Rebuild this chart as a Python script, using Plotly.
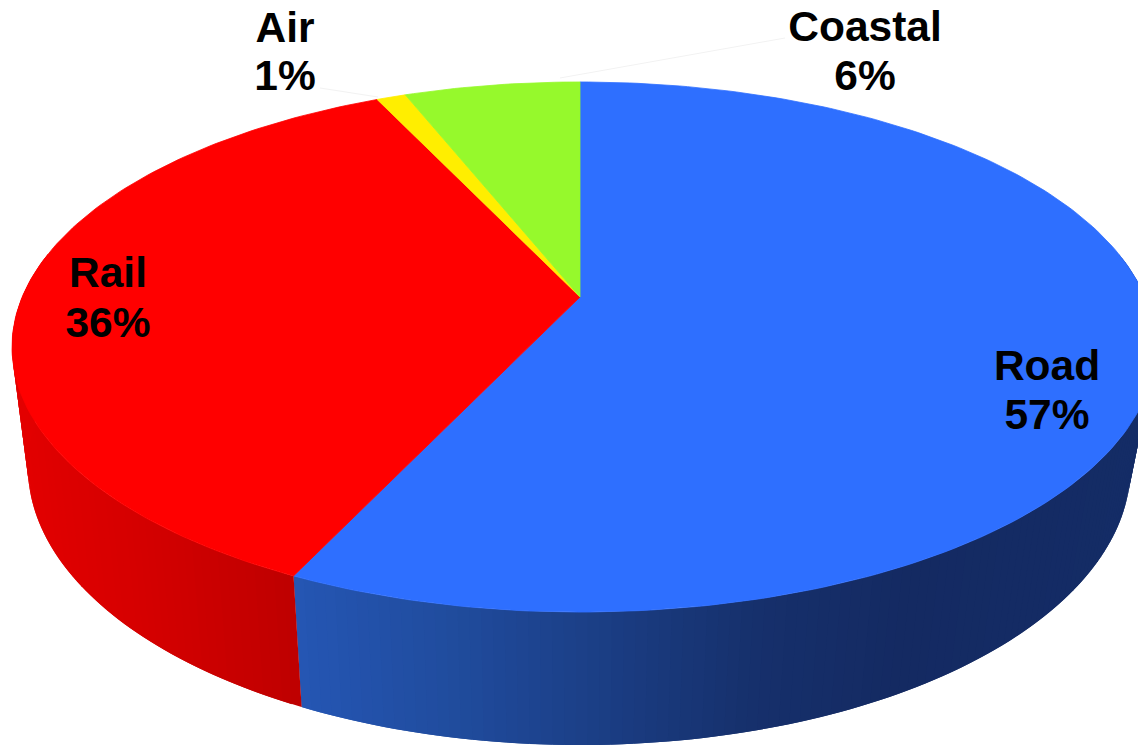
import math
import plotly.graph_objects as go

# Data, clockwise from 12 o'clock
categories = ["Road", "Rail", "Air", "Coastal"]
shares = [57, 36, 1, 6]
top_colors = ["#2E6FFF", "#FF0000", "#FFEE00", "#96F92C"]

# Label placement (pixel space of the hidden axes)
name_x = [1047, 108, 285, 865]
name_y = [369, 276, 31, 30]
pct_y = [418, 326, 79, 79]

# Side-wall shading stops: screen x -> colour
side_stops = {
    "Road": [(295, (37, 86, 180)), (450, (32, 76, 158)), (600, (27, 62, 133)),
             (750, (22, 48, 108)), (900, (20, 42, 98)), (1140, (20, 44, 102))],
    "Rail": [(10, (228, 0, 0)), (150, (212, 0, 0)), (230, (200, 0, 0)), (300, (190, 0, 0))],
}
leaders = [([320, 378], [88, 97]), ([785, 560], [38, 78])]

# Projection of the disc: perspective tilt
CX, CY = 580, 297
A_LEFT, A_RIGHT, B, K = 557.8, 565.0, 255.6, 0.1887
SX_LEFT, SX_RIGHT, SY, DY = 0.972, 0.957, 1.05, 102.4
W, H = 1138, 746


def rim(theta):
    t = math.radians(theta)
    u, v = math.sin(t), math.cos(t)
    w = 1 + K * v
    a = A_RIGHT if u > 0 else A_LEFT
    return CX + a * u / w, CY - B * v / w


def low(theta):
    x, y = rim(theta)
    sx = SX_RIGHT if x > CX else SX_LEFT
    return CX + sx * (x - CX), SY * y + DY


def shade(stops, x):
    if x <= stops[0][0]:
        return stops[0][1]
    for (x0, c0), (x1, c1) in zip(stops, stops[1:]):
        if x <= x1:
            f = (x - x0) / (x1 - x0)
            return tuple(a + f * (b - a) for a, b in zip(c0, c1))
    return stops[-1][1]


total = sum(shares)
edges = [0]
for s in shares:
    edges.append(edges[-1] + 360 * s / total)

fig = go.Figure()

# Side wall: overlapping bands so no seams show
for name, share, a0, a1 in zip(categories, shares, edges, edges[1:]):
    if name not in side_stops:
        continue
    lo, hi = max(a0, 80), min(a1, 280)
    n = int((hi - lo) / 1.0) + 1
    for i in range(n):
        t0 = lo + (hi - lo) * i / n
        t1 = lo + (hi - lo) * (i + 1) / n
        t2 = min(t1 + (hi - lo) / n, hi)   # overlap into the next band
        p = [rim(t0), rim(t2), low(t2), low(t0), rim(t0)]
        mx = (rim(t0)[0] + rim(t1)[0] + low(t0)[0] + low(t1)[0]) / 4
        c = shade(side_stops[name], mx)
        col = "rgb(%d,%d,%d)" % tuple(round(v) for v in c)
        fig.add_trace(go.Scatter(x=[q[0] for q in p], y=[q[1] for q in p], mode="lines",
                                 fill="toself", fillcolor=col, line=dict(color=col, width=0),
                                 hoverinfo="skip", showlegend=False))

# Top face
for name, col, a0, a1 in zip(categories, top_colors, edges, edges[1:]):
    n = max(int(a1 - a0), 4)
    pts = [rim(a0 + (a1 - a0) * i / n) for i in range(n + 1)]
    xs = [CX] + [q[0] for q in pts] + [CX]
    ys = [CY] + [q[1] for q in pts] + [CY]
    fig.add_trace(go.Scatter(x=xs, y=ys, mode="lines", fill="toself", fillcolor=col,
                             line=dict(color=col, width=0.8), name=name,
                             hoverinfo="name", showlegend=False))

# Faint leader lines
for lx, ly in leaders:
    fig.add_trace(go.Scatter(x=lx, y=ly, mode="lines", line=dict(color="#F2F2F2", width=1),
                             hoverinfo="skip", showlegend=False))

# Labels
font = dict(family="Liberation Sans", size=42.5, color="#000000", weight="bold")
fig.add_trace(go.Scatter(x=name_x, y=name_y, mode="text", text=categories,
                         textposition="middle center", textfont=font,
                         hoverinfo="skip", showlegend=False))
fig.add_trace(go.Scatter(x=name_x, y=pct_y, mode="text", text=["%d%%" % s for s in shares],
                         textposition="middle center", textfont=font,
                         hoverinfo="skip", showlegend=False))

fig.update_layout(width=W, height=H, margin=dict(l=0, r=0, t=0, b=0),
                  paper_bgcolor="white", plot_bgcolor="white",
                  xaxis=dict(range=[0, W], visible=False, fixedrange=True),
                  yaxis=dict(range=[H, 0], visible=False, fixedrange=True))
fig.write_html("out.html", config=dict(displayModeBar=False),
               post_script="document.body.style.margin='0';document.body.style.overflow='hidden';")
